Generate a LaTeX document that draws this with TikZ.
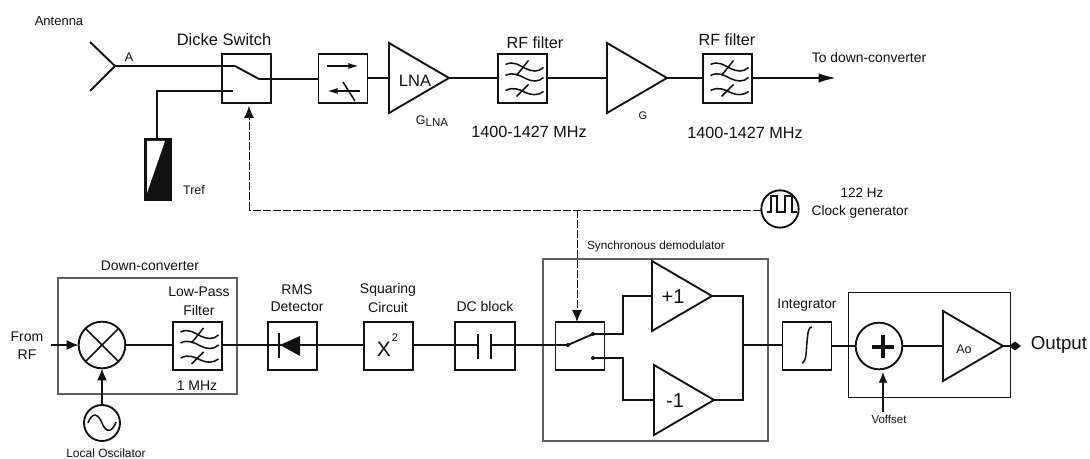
\documentclass[tikz,border=0pt]{standalone}
\usepackage{fontspec}
\setmainfont{Liberation Sans}
\usetikzlibrary{shapes.geometric,arrows.meta}
\newcommand{\fpx}[1]{\fontsize{\dimexpr #1pt*3/4\relax}{\dimexpr #1pt*9/10\relax}\selectfont}
\definecolor{ink}{HTML}{111111}
\definecolor{framegray}{HTML}{5E5E5E}
\tikzset{
  x=0.75pt,y=-0.75pt,
  wire/.style={draw=ink,line width=1.4pt},
  glyph/.style={draw=ink,line width=1.15pt},
  thinglyph/.style={draw=ink,line width=1pt},
  arrowwire/.style={wire,-{Latex[length=9pt,width=7.5pt]}},
  ctrl/.style={draw=ink,line width=0.6pt,dash pattern=on 6pt off 1.5pt},
  ctrlarrow/.style={ctrl,-{Latex[length=9pt,width=7.5pt]}},
  blockbox/.style={draw=ink,line width=1.4pt,fill=white,rectangle,inner sep=0pt,outer sep=0pt,minimum width=36.75pt,minimum height=36.5pt},
  frame/.style={draw=framegray,line width=1pt,rectangle,inner sep=0pt,outer sep=0pt},
  roundel/.style={draw=ink,line width=1.4pt,fill=white,circle,inner sep=0pt,outer sep=0pt},
  amp/.style={draw=ink,line width=1.4pt,fill=white,isosceles triangle,isosceles triangle stretches,shape border rotate=0,inner sep=0pt,outer sep=0pt,minimum width=52.5pt,minimum height=45pt,anchor=apex},
  lbl/.style={inner sep=0pt,outer sep=0pt,text=ink,align=center},
  contact/.style={fill=ink,circle,inner sep=0pt,minimum size=3pt},
}
\newcommand{\filterglyph}[1]{
  \begin{scope}[shift={(#1)}]
    \draw[glyph] (-17,-14) .. controls (-9,-18) and (-3,-13) .. (3,-10) .. controls (9,-7) and (16,-6) .. (21,-11);
    \draw[glyph] (-17,-3) .. controls (-9,-7) and (-3,-3) .. (3,0) .. controls (9,3) and (16,4) .. (21,-1);
    \draw[glyph] (-17,12) .. controls (-9,8) and (-3,11) .. (3,14) .. controls (9,17) and (16,17) .. (21,13);
    \draw[glyph] (6,-18) -- (-6,-3);
    \draw[glyph] (6,6) -- (-6,18);
  \end{scope}
}
\begin{document}
\begin{tikzpicture}
\useasboundingbox (0,0) rectangle (1090,459);
\fill[white] (0,0) rectangle (1090,459);

% frames
\node[frame,minimum width=134.25pt,minimum height=87pt] (dcframe) at (147.5,336) {};
\node[frame,minimum width=168.75pt,minimum height=136.5pt] (sdframe) at (655.5,350) {};
\node[frame,draw=ink,line width=0.75pt,minimum width=121.5pt,minimum height=78.75pt] (outframe) at (929,345.5) {};

% top chain blocks
\coordinate (anttip) at (115,66);
\coordinate (anta) at (90,42);
\coordinate (antb) at (90,91);
\node[blockbox] (dicke) at (246.5,78.5) {};
\node[blockbox] (iso) at (343,78.5) {};
\node[amp] (lna) at (449,78) {};
\node[blockbox] (rf1) at (522.5,78.5) {};
\node[amp] (gamp) at (667,78) {};
\node[blockbox] (rf2) at (727.5,78.5) {};
\coordinate (todc) at (836,78);
\node[rectangle,draw=ink,line width=1pt,fill=ink,inner sep=0pt,outer sep=0pt,minimum width=19.5pt,minimum height=45.75pt] (tref) at (158,169.5) {};
\coordinate (c1) at (235,66);
\coordinate (c2) at (259,79);
\coordinate (c3) at (233,91);
\coordinate (treftop) at (157,91);
\fill[white] (147,193) -- (147,141) -- (165,141) -- cycle;

\draw[wire] (anta) -- (anttip) -- (antb);
\draw[wire] (anttip) -- (c1);
\draw[wire] (c1) -- (c2);
\draw[wire] (c3) -- (treftop) -- (tref.north -| treftop);
\draw[wire] (c2) -- (iso.west |- c2);
\draw[wire] (iso.east |- lna.lower side) -- (lna.lower side);
\draw[wire] (lna.apex) -- (rf1.west |- lna.apex);
\draw[wire] (rf1.east |- lna.apex) -- (gamp.lower side);
\draw[wire] (gamp.apex) -- (rf2.west |- gamp.apex);
\draw[wire,-{Latex[length=13pt,width=7pt]}] (rf2.east |- gamp.apex) -- (todc);

% isolator glyph
\draw[glyph,-{Latex[length=8pt,width=4.5pt]}] (327,66) -- (359,66);
\draw[glyph,-{Latex[length=8pt,width=4.5pt]}] (360,91) -- (327,91);
\draw[glyph] (343,82) -- (355,101);

\filterglyph{522.5,78.5}
\filterglyph{727.5,78.5}

% clock
\node[roundel,minimum size=28pt] (clk) at (780,209) {};
\draw[thinglyph] (767,212) -- (771,212) -- (771,196) -- (777,196) -- (777,212) -- (785,212) -- (785,196) -- (792,196) -- (792,212) -- (797,212);
\coordinate (ctlcorner) at (249,210);
\coordinate (ctltop) at (249,106);
\coordinate (ctljunc) at (577,210);
\coordinate (ctlsd) at (577,322);
\draw[ctrl] (clk.west |- ctlcorner) -- (ctlcorner);
\draw[ctrlarrow] (ctlcorner) -- (ctltop);
\draw[ctrlarrow] (ctljunc) -- (ctlsd);

% bottom chain
\coordinate (fromrf) at (51,345);
\node[roundel,minimum size=35pt] (mix) at (102,345) {};
\draw[glyph] (mix.45) -- (mix.225);
\draw[glyph] (mix.135) -- (mix.315);
\node[blockbox] (lpf) at (197.5,346) {};
\node[blockbox] (rms) at (292.5,346) {};
\node[blockbox] (sq) at (388.5,346) {};
\node[blockbox,minimum width=45pt] (dc) at (485,346) {};
\node[blockbox] (sw) at (580,346) {};
\node[roundel,minimum size=27pt] (lo) at (102,423) {};
\draw[glyph] (88,423) .. controls (92,412) and (98,413) .. (102,423) .. controls (106,433) and (112,433) .. (116,422);
\draw[arrowwire] (fromrf) -- (mix.west);
\draw[arrowwire] (lo.north) -- (mix.south);
\filterglyph{197.5,346}
\draw[wire] (mix.east) -- (lpf.west |- mix.east);
\draw[wire] (lpf.east |- mix.east) -- (sq.west |- mix.east);
\fill[ink] (280,345) -- (300,336) -- (300,356) -- cycle;
\draw[glyph,line width=1.3pt] (279,333) -- (279,358);
\draw[wire] (sq.east |- mix.east) -- (478,345);
\draw[wire] (491,345) -- (568,345);
\draw[wire] (478,334) -- (478,359);
\draw[wire] (491,334) -- (491,359);

\coordinate (swin) at (568,345);
\coordinate (swtop) at (593,334);
\coordinate (swbot) at (593,358);
\coordinate (upbend) at (623,334);
\coordinate (lowbend) at (623,358);
\coordinate (bus) at (743,345);
\node[amp] (plus) at (712,296) {};
\node[amp] (minus) at (714,400) {};
\draw[wire] (swin) -- (swtop);
\node[contact] at (swin) {};
\node[contact] at (swtop) {};
\node[contact] at (swbot) {};
\draw[wire] (swtop) -- (upbend) -- (upbend |- plus.lower side) -- (plus.lower side);
\draw[wire] (swbot) -- (lowbend) -- (lowbend |- minus.lower side) -- (minus.lower side);
\draw[wire] (plus.apex) -- (bus |- plus.apex) -- (bus |- minus.apex) -- (minus.apex);

\node[blockbox] (intg) at (807,346) {};
\node[roundel,minimum size=35pt] (add) at (879,346) {};
\node[amp] (ao) at (1003,346) {};
\coordinate (outtip) at (1015,346);
\coordinate (voff) at (883,412);
\draw[wire] (bus) -- (intg.west |- bus);
\draw[wire] (intg.east |- add.west) -- (add.west);
\draw[wire] (add.east) -- (ao.lower side);
\draw[wire] (ao.apex) -- (outtip);
\fill[ink] (1009,346) -- (1015,341.5) -- (1021,346) -- (1015,350.5) -- cycle;
\draw[draw=ink,line width=0.9pt,-{Latex[length=8pt,width=6.5pt]}] (voff) -- (883,372);
\draw[draw=ink,line width=3pt] (872,347) -- (894,347);
\draw[draw=ink,line width=3pt] (883,335) -- (883,358);
\draw[glyph] (802,363) .. controls (807,361) and (806,350) .. (807,342) .. controls (808,333) and (808,327) .. (812,327);

% labels
\node[lbl] (t1) at (59,21) {\fpx{13}Antenna};
\node[lbl] (t2) at (129,57) {\fpx{12.5}A};
\node[lbl] (t3) at (224,40) {\fpx{16.5}Dicke Switch};
\node[lbl] (t4) at (194,190) {\fpx{12.5}Tref};
\node[lbl] (t5) at (415,81) {\fpx{16.5}LNA};
\node[lbl] (t6) at (432,121) {\fpx{12.5}G\raisebox{-0.35ex}{\fpx{11.5}LNA}};
\node[lbl] (t7) at (535,43) {\fpx{16.2}RF filter};
\node[lbl] (t8) at (727,40) {\fpx{16.2}RF filter};
\node[lbl] (t9) at (529,132) {\fpx{16.2}1400-1427 MHz};
\node[lbl] (t10) at (745,133) {\fpx{16.2}1400-1427 MHz};
\node[lbl] (t11) at (643,116) {\fpx{11}G};
\node[lbl] (t12) at (869,58) {\fpx{13.9}To down-converter};
\node[lbl] (t13) at (862,193) {\fpx{13.5}122 Hz};
\node[lbl] (t14) at (860,212) {\fpx{13.7}Clock generator};
\node[lbl] (t15) at (656,246) {\fpx{11.8}Synchronous demodulator};
\node[lbl] (t16) at (150,266) {\fpx{13.9}Down-converter};
\node[lbl] (t17) at (199,292) {\fpx{14}Low-Pass};
\node[lbl] (t18) at (199,310) {\fpx{14}Filter};
\node[lbl] (t19) at (197,386) {\fpx{14}1 MHz};
\node[lbl] (t20) at (297,290) {\fpx{14}RMS};
\node[lbl] (t21) at (297,307) {\fpx{14}Detector};
\node[lbl] (t22) at (388,290) {\fpx{14}Squaring};
\node[lbl] (t23) at (388,307) {\fpx{14}Circuit};
\node[lbl] (t24) at (485,306) {\fpx{14}DC block};
\node[lbl] (t25) at (27,337) {\fpx{14}From};
\node[lbl] (t26) at (27,355) {\fpx{14}RF};
\node[lbl] (t27) at (106,453) {\fpx{12}Local Oscilator};
\node[lbl] (t28) at (384,349) {\fpx{21}X};
\node[lbl] (t29) at (395,338) {\fpx{11}2};
\node[lbl] (t30) at (673,297) {\fpx{20}+1};
\node[lbl] (t31) at (675,401) {\fpx{20}-1};
\node[lbl] (t32) at (807,305) {\fpx{13.8}Integrator};
\node[lbl] (t33) at (964,349) {\fpx{12.5}Ao};
\node[lbl] (t34) at (889,419) {\fpx{11.5}Voffset};
\node[lbl] (t35) at (1059,345) {\fpx{18.7}Output};
\end{tikzpicture}
\end{document}
